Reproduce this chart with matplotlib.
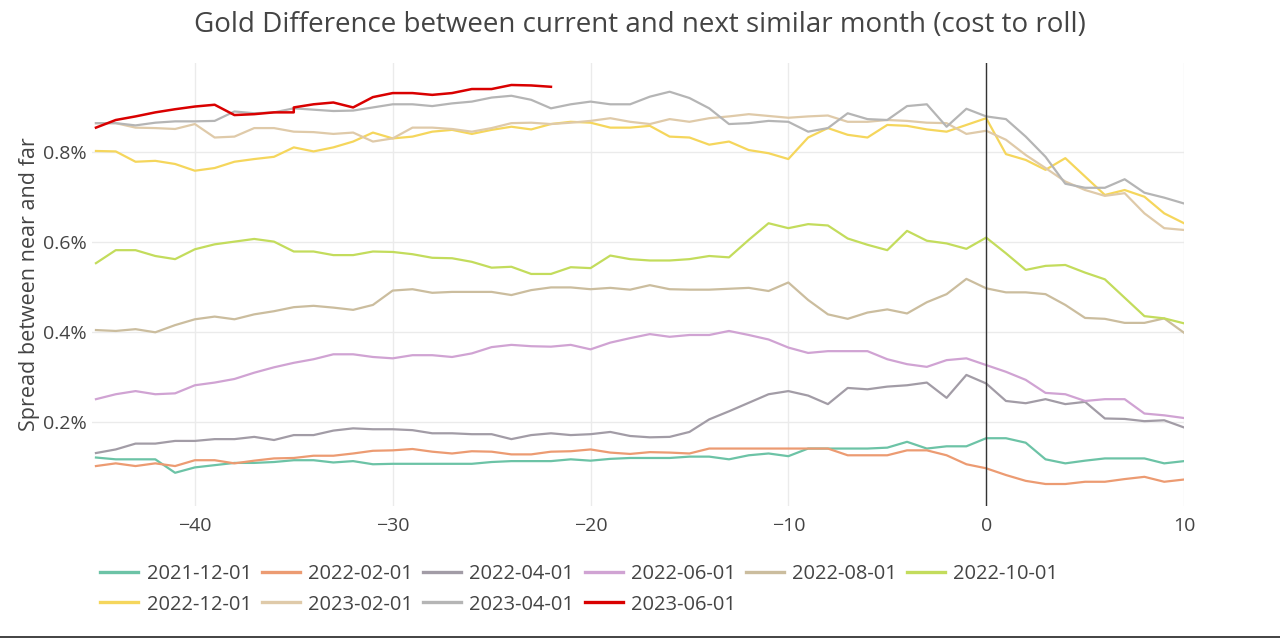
import numpy as np
import matplotlib
matplotlib.use('Agg')
import matplotlib.pyplot as plt
from matplotlib.ticker import FuncFormatter

plt.rcParams['font.family'] = ['Open Sans', 'DejaVu Sans']

# days relative to roll date
days = list(range(-45, 11))

labels = ['2021-12-01', '2022-02-01', '2022-04-01', '2022-06-01', '2022-08-01',
          '2022-10-01', '2022-12-01', '2023-02-01', '2023-04-01', '2023-06-01']

s_2021_12 = [0.120, 0.116, 0.116, 0.116, 0.086, 0.098, 0.103, 0.108, 0.108, 0.110,
             0.114, 0.114, 0.109, 0.112, 0.105, 0.106, 0.106, 0.106, 0.106, 0.106,
             0.110, 0.112, 0.112, 0.112, 0.116, 0.113, 0.117, 0.119, 0.119, 0.119,
             0.122, 0.122, 0.116, 0.125, 0.129, 0.123, 0.140, 0.140, 0.140, 0.140,
             0.142, 0.155, 0.140, 0.145, 0.145, 0.163, 0.163, 0.153, 0.116, 0.107,
             0.113, 0.118, 0.118, 0.118, 0.107, 0.112]
s_2022_02 = [0.101, 0.107, 0.101, 0.107, 0.101, 0.114, 0.114, 0.107, 0.113, 0.118,
             0.119, 0.124, 0.124, 0.129, 0.135, 0.136, 0.139, 0.133, 0.129, 0.134,
             0.133, 0.127, 0.127, 0.133, 0.134, 0.138, 0.131, 0.128, 0.132, 0.131,
             0.129, 0.140, 0.140, 0.140, 0.140, 0.140, 0.140, 0.140, 0.125, 0.125,
             0.125, 0.136, 0.136, 0.125, 0.105, 0.096, 0.081, 0.068, 0.061, 0.061,
             0.066, 0.066, 0.072, 0.077, 0.066, 0.071]
s_2022_04 = [0.130, 0.138, 0.151, 0.151, 0.157, 0.157, 0.161, 0.161, 0.166, 0.159,
             0.170, 0.170, 0.180, 0.185, 0.183, 0.183, 0.181, 0.174, 0.174, 0.172,
             0.172, 0.161, 0.170, 0.174, 0.170, 0.172, 0.177, 0.168, 0.165, 0.166,
             0.177, 0.205, 0.223, 0.242, 0.261, 0.268, 0.258, 0.239, 0.275, 0.272,
             0.278, 0.281, 0.287, 0.253, 0.304, 0.285, 0.246, 0.241, 0.250, 0.239,
             0.244, 0.207, 0.206, 0.201, 0.203, 0.187]
s_2022_06 = [0.250, 0.261, 0.268, 0.261, 0.263, 0.281, 0.287, 0.295, 0.309, 0.321,
             0.331, 0.339, 0.350, 0.350, 0.344, 0.341, 0.348, 0.348, 0.344, 0.352,
             0.366, 0.371, 0.368, 0.367, 0.371, 0.361, 0.376, 0.386, 0.395, 0.389,
             0.393, 0.393, 0.402, 0.393, 0.383, 0.365, 0.353, 0.357, 0.357, 0.357,
             0.339, 0.328, 0.322, 0.337, 0.341, 0.326, 0.311, 0.293, 0.264, 0.261,
             0.246, 0.250, 0.250, 0.218, 0.214, 0.208]
s_2022_08 = [0.404, 0.402, 0.406, 0.399, 0.415, 0.428, 0.434, 0.428, 0.439, 0.446,
             0.455, 0.458, 0.454, 0.449, 0.460, 0.492, 0.495, 0.487, 0.489, 0.489,
             0.489, 0.482, 0.493, 0.499, 0.499, 0.495, 0.498, 0.494, 0.504, 0.495,
             0.494, 0.494, 0.496, 0.498, 0.491, 0.510, 0.471, 0.439, 0.429, 0.443,
             0.450, 0.441, 0.466, 0.484, 0.518, 0.497, 0.488, 0.488, 0.484, 0.460,
             0.431, 0.429, 0.420, 0.420, 0.430, 0.398]
s_2022_10 = [0.553, 0.582, 0.582, 0.569, 0.562, 0.584, 0.595, 0.601, 0.607, 0.601,
             0.579, 0.579, 0.571, 0.571, 0.579, 0.578, 0.573, 0.565, 0.564, 0.556,
             0.543, 0.545, 0.529, 0.529, 0.544, 0.542, 0.570, 0.562, 0.559, 0.559,
             0.562, 0.569, 0.566, 0.605, 0.642, 0.631, 0.640, 0.637, 0.608, 0.594,
             0.582, 0.625, 0.603, 0.597, 0.585, 0.610, 0.575, 0.538, 0.547, 0.549,
             0.532, 0.517, 0.476, 0.435, 0.430, 0.419]
s_2022_12 = [0.803, 0.802, 0.779, 0.781, 0.774, 0.759, 0.765, 0.779, 0.785, 0.790,
             0.811, 0.802, 0.811, 0.824, 0.844, 0.831, 0.835, 0.846, 0.850, 0.841,
             0.850, 0.857, 0.851, 0.863, 0.868, 0.866, 0.855, 0.855, 0.859, 0.835,
             0.833, 0.817, 0.824, 0.805, 0.798, 0.785, 0.833, 0.854, 0.839, 0.833,
             0.861, 0.859, 0.851, 0.846, 0.861, 0.876, 0.796, 0.783, 0.761, 0.787,
             0.746, 0.705, 0.716, 0.701, 0.664, 0.642]
s_2023_02 = [0.865, 0.865, 0.855, 0.854, 0.852, 0.863, 0.833, 0.835, 0.854, 0.854,
             0.846, 0.845, 0.841, 0.844, 0.824, 0.831, 0.855, 0.855, 0.852, 0.846,
             0.854, 0.865, 0.866, 0.863, 0.866, 0.870, 0.876, 0.868, 0.863, 0.874,
             0.868, 0.876, 0.880, 0.885, 0.881, 0.877, 0.880, 0.882, 0.868, 0.868,
             0.872, 0.870, 0.866, 0.865, 0.841, 0.848, 0.828, 0.794, 0.765, 0.735,
             0.716, 0.703, 0.709, 0.664, 0.631, 0.627]
s_2023_04 = [0.865, 0.865, 0.860, 0.866, 0.869, 0.869, 0.870, 0.891, 0.887, 0.889,
             0.898, 0.895, 0.892, 0.893, 0.900, 0.907, 0.907, 0.903, 0.909, 0.913,
             0.922, 0.926, 0.917, 0.898, 0.907, 0.913, 0.907, 0.907, 0.924, 0.935,
             0.921, 0.898, 0.863, 0.865, 0.870, 0.868, 0.846, 0.854, 0.887, 0.874,
             0.872, 0.903, 0.907, 0.857, 0.897, 0.880, 0.874, 0.835, 0.790, 0.730,
             0.721, 0.721, 0.740, 0.710, 0.699, 0.686]
# latest contract, has a repeated day at -35
days_2023_06 = [-45, -44, -43, -42, -41, -40, -39, -38, -37, -36, -35, -35,
                -34, -33, -32, -31, -30, -29, -28, -27, -26, -25, -24, -23, -22]
s_2023_06 = [0.855, 0.872, 0.880, 0.889, 0.896, 0.902, 0.906, 0.883, 0.885, 0.889,
             0.889, 0.900, 0.907, 0.911, 0.900, 0.923, 0.932, 0.932, 0.928, 0.932,
             0.941, 0.941, 0.950, 0.949, 0.946]

colors = ['#6cc3a6', '#ec9b72', '#a29ca6', '#d0a3d3', '#cbbd9e',
          '#c3dc5c', '#f5d65c', '#dfcaa9', '#b5b5b5', '#d90000']

series = [s_2021_12, s_2022_02, s_2022_04, s_2022_06, s_2022_08,
          s_2022_10, s_2022_12, s_2023_02, s_2023_04]

fig = plt.figure(figsize=(12.8, 6.41), dpi=100)
ax = fig.add_axes([92/1280, 1-506/641, (1184-92)/1280, (506-63)/641])

handles = []
for k, s in enumerate(series):
    h, = ax.plot(days, s, color=colors[k], lw=1.6, label=labels[k], solid_joinstyle='round')
    handles.append(h)
h, = ax.plot(days_2023_06, s_2023_06, color=colors[9], lw=1.8, label=labels[9], solid_joinstyle='round')
handles.append(h)

ax.axvline(0, color='#333333', lw=1.0, zorder=5)

ax.set_xlim(-45.2, 10)
ax.set_ylim(0.012, 0.999)
ax.set_xticks([-40, -30, -20, -10, 0, 10])
ax.set_yticks([0.2, 0.4, 0.6, 0.8])
ax.xaxis.set_major_formatter(FuncFormatter(lambda v, p: ('\u2212' if v < 0 else '') + '%d' % abs(v)))
ax.yaxis.set_major_formatter(FuncFormatter(lambda v, p: '%.1f%%' % v))
ax.grid(True, color='#ebebeb', lw=1.0)
ax.set_axisbelow(True)
for sp in ax.spines.values():
    sp.set_visible(False)
ax.tick_params(length=0, labelsize=14, labelcolor='#444444')
ax.tick_params(axis='x', pad=8)
ax.tick_params(axis='y', pad=4)

ax.set_ylabel('Spread between near and far', fontsize=15.5, color='#444444', labelpad=2)
fig.suptitle('Gold Difference between current and next similar month (cost to roll)',
             fontsize=20, color='#444444', y=0.983)

# legend rows filled column-wise by matplotlib, so reorder
order = [0, 6, 1, 7, 2, 8, 3, 9, 4, 5]
leg = fig.legend([handles[i] for i in order], [labels[i] for i in order],
                 ncol=6, loc='upper left', bbox_to_anchor=(0.072, 0.132),
                 frameon=False, fontsize=14.5, handlelength=1.9, handletextpad=0.4,
                 columnspacing=0.5, labelspacing=0.5, borderaxespad=0)
for t in leg.get_texts():
    t.set_color('#444444')
for l in leg.get_lines():
    l.set_linewidth(2.4)

fig.add_artist(plt.Line2D([0, 1], [1-637/641, 1-637/641], color='#222222', lw=1.2,
                          transform=fig.transFigure))

fig.savefig('out.png', dpi=100)
